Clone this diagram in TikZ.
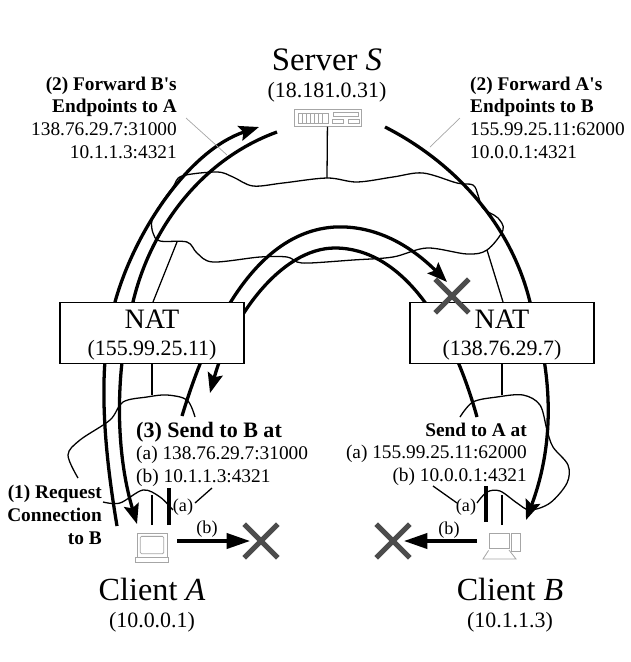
\documentclass[tikz,border=0pt]{standalone}
\usepackage{fontspec}
\setmainfont{Liberation Serif}
\usetikzlibrary{arrows.meta,positioning,shapes.misc}

\begin{document}
\begin{tikzpicture}[
    x=0.03cm, y=-0.03cm,
    natbox/.style={draw, line width=1.5pt, fill=white, minimum width=5.52cm, minimum height=1.83cm},
    hostbox/.style={draw=black!35, line width=0.7pt, inner sep=0pt},
    bigtxt/.style={inner sep=0pt, anchor=base, font=\fontsize{27.5}{30}\selectfont},
    addr/.style={inner sep=0pt, anchor=base, font=\fontsize{18.7}{22}\selectfont},
    lbl/.style={inner sep=0pt, font=\fontsize{16.5}{19.3}\selectfont},
    small/.style={inner sep=0pt, font=\fontsize{15.5}{18}\selectfont},
    hop/.style={line width=2.8pt},
    hoparrow/.style={line width=2.8pt, -{Stealth[length=17pt, width=13pt, inset=3pt]}},
    hbararrow/.style={line width=2.8pt, -{Stealth[length=20pt, width=13pt, inset=0pt]}},
    wire/.style={line width=1.1pt},
    leader/.style={draw=black!35, line width=0.6pt},
    crossmark/.style={cross out, draw=black!70, line width=4.5pt, minimum size=0.85cm, inner sep=0pt}
  ]
  \useasboundingbox (0,0) rectangle (630,662);

  % Clouds
  \draw[wire] plot[smooth cycle, tension=0.55] coordinates {(173,187) (182,176) (217,172) (233,177) (253,186) (283,183) (327,178) (357,182) (393,177) (423,173) (457,183) (473,185) (478,195) (482,207) (490,213) (498,218) (503,230) (487,250) (467,254) (427,248) (393,257) (353,260) (310,263) (297,262) (287,257) (260,257) (213,262) (197,253) (187,242) (160,241) (153,233) (152,220) (160,205)};
  \draw[wire] plot[smooth, tension=0.55] coordinates {(195,417) (187,400) (167,395) (147,397) (123,402) (110,420) (80,440) (68,455) (78,478)};
  \draw[wire] plot[smooth, tension=0.55] coordinates {(103,502) (120,503) (143,490) (160,497) (173,510)};
  \draw[wire] plot[smooth, tension=0.55] coordinates {(195,503) (212,488)};
  \draw[wire] plot[smooth, tension=0.55] coordinates {(460,417) (473,402) (497,397) (523,395) (540,405) (547,430) (553,447) (568,465) (567,483) (550,503) (530,510) (517,503) (500,491) (487,492) (477,503)};
  \draw[wire] plot[smooth, tension=0.55] coordinates {(457,503) (433,486)};

  % Server to clients
  \coordinate (a0) at (117,526);
  \coordinate (a1) at (115,302);
  \coordinate (s0) at (259,127);
  \draw[hoparrow] (a0) .. controls (106,460) and (95,370) .. (a1) .. controls (135,230) and (190,150) .. (s0);
  \coordinate (s1) at (277,132);
  \coordinate (a2) at (133,302);
  \coordinate (a3) at (137,524);
  \draw[hoparrow] (s1) .. controls (200,160) and (150,230) .. (a2) .. controls (115,370) and (115,450) .. (a3);
  \coordinate (s2) at (385,127);
  \coordinate (b0) at (530,302);
  \coordinate (b1) at (526,520);
  \draw[hoparrow] (s2) .. controls (450,160) and (510,220) .. (b0) .. controls (552,370) and (556,440) .. (b1);

  % Hole punching attempts
  \coordinate (a4) at (182,416);
  \coordinate (top0) at (335,227);
  \coordinate (natin) at (447,282);
  \draw[hoparrow] (a4) .. controls (205,340) and (250,232) .. (top0) .. controls (380,225) and (415,250) .. (natin);
  \coordinate (b2) at (477,417);
  \coordinate (top1) at (335,248);
  \coordinate (a5) at (210,393);
  \draw[hoparrow] (b2) .. controls (450,320) and (400,248) .. (top1) .. controls (280,248) and (230,320) .. (a5);

  % NATs
  \node[natbox] (natA) at (152,333) {};
  \node[natbox] (natB) at (502,333) {};
  \node[bigtxt, font=\fontsize{24}{26}\selectfont] (natAname) at (152,328) {NAT};
  \node[addr] (natAaddr) at (152,355) {(155.99.25.11)};
  \node[bigtxt, font=\fontsize{24}{26}\selectfont] (natBname) at (502,328) {NAT};
  \node[addr] (natBaddr) at (502,355) {(138.76.29.7)};

  % Server
  \node[bigtxt, font=\fontsize{28}{30}\selectfont] (srvname) at (327,70) {Server \textit{S}};
  \node[addr] (srvaddr) at (327,97) {(18.181.0.31)};
  \node[hostbox, minimum width=2.01cm, minimum height=0.5cm] (srv) at (327.5,118) {};
  \node[hostbox, minimum width=0.9cm, minimum height=0.3cm] (srvrack) at (313,118) {};
  \foreach \xx in {302,306,...,322} \draw[hostbox] (\xx,113) -- (\xx,123);
  \node[hostbox, minimum width=0.75cm, minimum height=0.13cm] (srvd0) at (346,114.5) {};
  \node[hostbox, minimum width=0.33cm, minimum height=0.13cm, below left=0.06cm and -0.33cm of srvd0] (srvd1) {};
  \node[hostbox, minimum width=0.33cm, minimum height=0.13cm, below right=0.06cm and -0.33cm of srvd0] (srvd2) {};

  % Clients
  \node[hostbox, minimum width=0.9cm, minimum height=0.72cm] (hostA) at (152,545) {};
  \node[hostbox, minimum width=0.7cm, minimum height=0.52cm, rounded corners=1pt] (hostAscr) at (152,545) {};
  \node[hostbox, minimum width=1cm, minimum height=0.15cm, below=0pt of hostA] (hostAbase) {};
  \node[hostbox, minimum width=0.6cm, minimum height=0.45cm] (hostB) at (499,540.5) {};
  \node[hostbox, minimum width=0.27cm, minimum height=0.54cm, right=0.06cm of hostB.north east, anchor=north west] (hostBtower) {};
  \draw[hostbox] (hostB.south west) ++(0,2) -- (483,559) -- (516,559) -- (509,550);

  % Links
  \coordinate (srvjoin) at (327,178);
  \draw[wire] (srv) -- (srvjoin);
  \coordinate (natAup) at (177,242);
  \coordinate (natBup) at (487,250);
  \draw[wire] (natA.north |- 0,302) ++(1,0) -- (natAup);
  \draw[wire] (natB.north |- 0,302) ++(1,0) -- (natBup);
  \coordinate (natAdown) at (152,395);
  \coordinate (natBdown) at (502,395);
  \draw[wire] (natA.south) -- (natAdown);
  \draw[wire] (natB.south) -- (natBdown);
  \coordinate (hostAup) at (152,495);
  \coordinate (hostBup) at (502,495);
  \coordinate (hostAlow) at (152,525);
  \coordinate (hostBlow) at (502,525);
  \draw[wire] (hostAlow) -- (hostAup);
  \draw[wire] (hostBlow) -- (hostBup);

  % Attempt (a)
  \coordinate (a6) at (169,525);
  \coordinate (a7) at (169,488);
  \coordinate (b3) at (486,522);
  \coordinate (b4) at (486,486);
  \draw[hop] (a6) -- (a7);
  \draw[hop] (b3) -- (b4);

  % Attempt (b) and blocked packets
  \node[crossmark] (xtop) at (452,296) {};
  \node[crossmark] (xA) at (261,541) {};
  \node[crossmark] (xB) at (393,541) {};
  \coordinate (hostAright) at (177,541);
  \coordinate (hostBleft) at (477,541);
  \draw[hbararrow, shorten >=-5pt] (hostAright) -- (xA);
  \draw[hbararrow, shorten >=-5pt] (hostBleft) -- (xB);

  % Leaders
  \coordinate (lead0) at (186,118);
  \coordinate (lead1) at (227,155);
  \coordinate (lead2) at (460,118);
  \coordinate (lead3) at (430,147);
  \draw[leader] (lead0) -- (lead1);
  \draw[leader] (lead2) -- (lead3);

  % Labels
  \node[lbl, anchor=base east, align=right] (fwdB) at (177,158) {\textbf{(2) Forward B\textquotesingle s}\\\textbf{Endpoints to A}\\138.76.29.7:31000\\10.1.1.3:4321};
  \node[lbl, anchor=base west, align=left] (fwdA) at (470,158) {\textbf{(2) Forward A\textquotesingle s}\\\textbf{Endpoints to B}\\155.99.25.11:62000\\10.0.0.1:4321};
  \node[lbl, anchor=base east, align=right] (req) at (102,544) {\textbf{(1) Request}\\\textbf{Connection}\\\textbf{to B}};
  \node[lbl, anchor=base west, font=\fontsize{18.8}{22}\selectfont\bfseries] (sendB) at (136,437) {(3) Send to B at};
  \node[lbl, anchor=base west, align=left] (sendBaddr) at (136,482) {(a) 138.76.29.7:31000\\(b) 10.1.1.3:4321};
  \node[lbl, anchor=base east, font=\fontsize{16.5}{19}\selectfont\bfseries] (sendA) at (527,436) {Send to A at};
  \node[lbl, anchor=base east, align=right] (sendAaddr) at (527,481) {(a) 155.99.25.11:62000\\(b) 10.0.0.1:4321};
  \node[small] (aA) at (183,507) {(a)};
  \node[small] (aB) at (466,507) {(a)};
  \node[small] (bA) at (207,529) {(b)};
  \node[small] (bB) at (449,530) {(b)};

  % Client names
  \node[bigtxt] (cliA) at (152,600) {Client \textit{A}};
  \node[addr] (cliAaddr) at (152,627) {(10.0.0.1)};
  \node[bigtxt] (cliB) at (510,600) {Client \textit{B}};
  \node[addr] (cliBaddr) at (510,627) {(10.1.1.3)};

\end{tikzpicture}
\end{document}
